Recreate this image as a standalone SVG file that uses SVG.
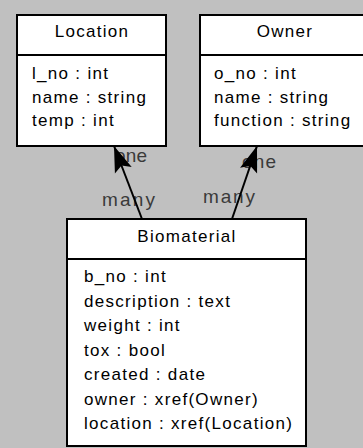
<svg xmlns="http://www.w3.org/2000/svg" width="363" height="448" viewBox="0 0 363 448">
  <style>
    .box { fill: #ffffff; stroke: #000000; stroke-width: 2; }
    .div { stroke: #000000; stroke-width: 2; }
    .t { font-family: "Liberation Sans", Arial, sans-serif; font-size: 17px; fill: #000000; letter-spacing: 1.3px; }
    .title { text-anchor: middle; }
    .lbl { font-family: "Liberation Sans", Arial, sans-serif; font-size: 19px; fill: #3a3a3a; }
    .conn { stroke: #000000; stroke-width: 2; fill: none; marker-end: url(#arrow); }
  </style>
  <defs>
    <marker id="arrow" markerUnits="userSpaceOnUse" viewBox="-28 -11 30 22" refX="0" refY="0" markerWidth="30" markerHeight="22" orient="auto">
      <path d="M0,0 L-26,-9 L-21,0 L-26,9 Z" fill="#000000"/>
    </marker>
  </defs>
  <rect x="0" y="0" width="363" height="448" fill="#c0c0c0"/>

  <g id="connectors">
    <text class="lbl" x="115" y="162" textLength="32" lengthAdjust="spacing">one</text>
    <text class="lbl" x="102" y="206" textLength="53" lengthAdjust="spacing">many</text>
    <text class="lbl" x="242" y="168" textLength="34" lengthAdjust="spacing">one</text>
    <text class="lbl" x="203" y="203" textLength="52" lengthAdjust="spacing">many</text>
    <line class="conn" x1="142" y1="219" x2="114" y2="146"/>
    <line class="conn" x1="232" y1="219" x2="257" y2="146"/>
  </g>

  <g id="location">
    <rect class="box" x="17" y="15" width="149" height="131"/>
    <line class="div" x1="17" y1="55" x2="166" y2="55"/>
    <text class="t title" x="92" y="37">Location</text>
    <text class="t" x="32" y="79">l_no : int</text>
    <text class="t" x="32" y="102.5">name : string</text>
    <text class="t" x="32" y="126">temp : int</text>
  </g>

  <g id="owner">
    <rect class="box" x="200" y="15" width="168" height="131"/>
    <line class="div" x1="200" y1="55" x2="368" y2="55"/>
    <text class="t title" x="285" y="37">Owner</text>
    <text class="t" x="214" y="79">o_no : int</text>
    <text class="t" x="214" y="102.5">name : string</text>
    <text class="t" x="214" y="126">function : string</text>
  </g>

  <g id="biomaterial">
    <rect class="box" x="67" y="219" width="239" height="227"/>
    <line class="div" x1="67" y1="259" x2="306" y2="259"/>
    <text class="t title" x="187" y="241.5">Biomaterial</text>
    <text class="t" x="84" y="282">b_no : int</text>
    <text class="t" x="84" y="306.5">description : text</text>
    <text class="t" x="84" y="331">weight : int</text>
    <text class="t" x="84" y="355.5">tox : bool</text>
    <text class="t" x="84" y="380">created : date</text>
    <text class="t" x="84" y="404.5">owner : xref(Owner)</text>
    <text class="t" x="84" y="429">location : xref(Location)</text>
  </g>
</svg>
